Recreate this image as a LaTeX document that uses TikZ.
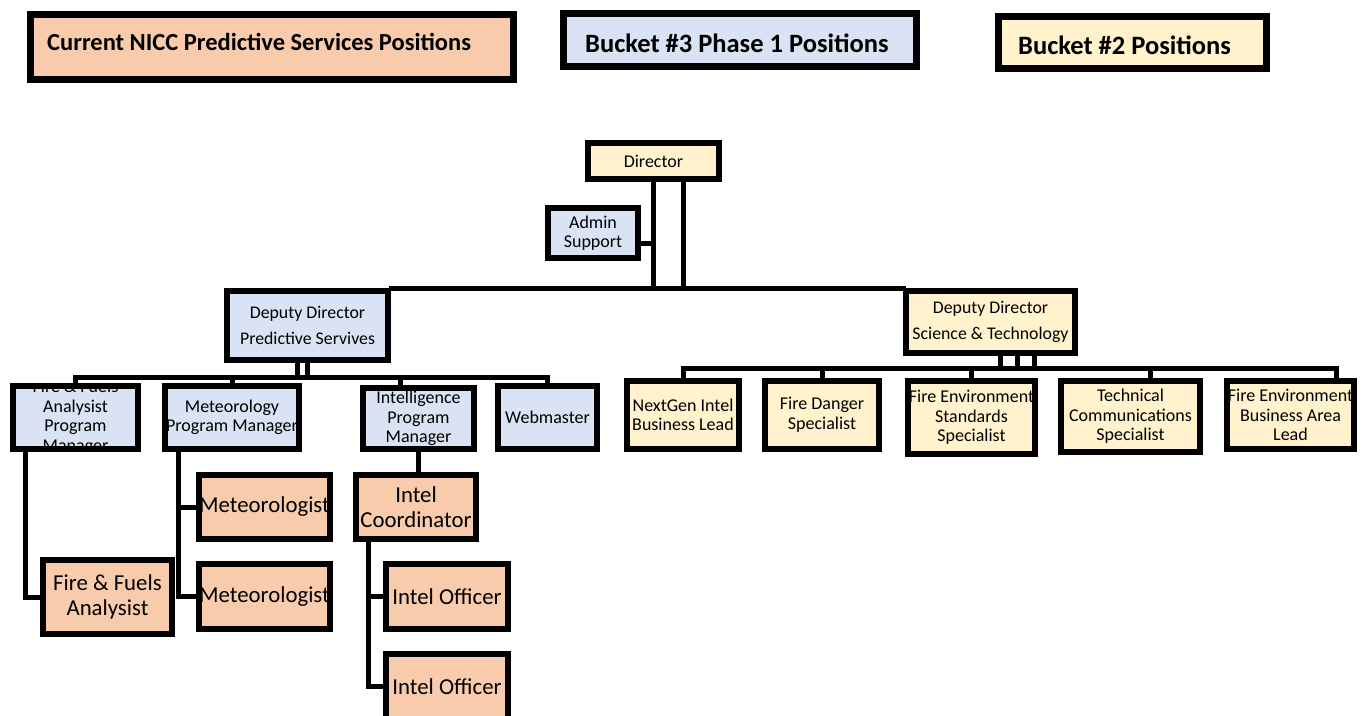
\documentclass[tikz,border=0pt]{standalone}
\usepackage{fontspec}
\setmainfont{Carlito}
\definecolor{peach}{HTML}{F8CBAD}
\definecolor{lblue}{HTML}{DAE3F3}
\definecolor{lyellow}{HTML}{FFF2CC}
\begin{document}
\begin{tikzpicture}[x=1pt, y=-1pt,
  txt/.style={draw=none, fill=none, align=center, inner sep=0pt, minimum width=0pt, minimum height=0pt, path picture={}},
  box/.style={draw, line width=6pt, inner sep=0pt, font=\fontsize{18}{19.5}\selectfont,
    path picture={\node[txt] at (path picture bounding box.center) {#1};}},
  big/.style={font=\fontsize{22.8}{24.5}\selectfont},
  wide/.style={font=\fontsize{17.8}{26}\selectfont},
  legend/.style={draw, line width=7pt, inner sep=0pt},
  legtxt/.style={font=\bfseries\fontsize{26.5}{30}\selectfont, inner sep=0pt, anchor=west},
  link/.style={line width=5pt, line cap=rect}]
\useasboundingbox (0,0) rectangle (1362,715);

% legend
\node [legend, fill=peach, minimum width=483, minimum height=65] (legcur) at (272,47) {};
\node [legtxt, font=\bfseries\fontsize{24.5}{28}\selectfont] (legcurtxt) at (47,42) {Current NICC Predictive Services Positions};
\node [legend, fill=lblue, minimum width=353, minimum height=53] (legbthree) at (740,40) {};
\node [legtxt] (legbthreetxt) at (585,43) {Bucket \#3 Phase 1 Positions};
\node [legend, fill=lyellow, minimum width=268, minimum height=52] (legbtwo) at (1132.5,42.5) {};
\node [legtxt] (legbtwotxt) at (1018,45) {Bucket \#2 Positions};

% top
\node [box={Director}, fill=lyellow, minimum width=131, minimum height=36] (dir) at (653.5,161) {};
\node [box={Admin\\Support}, fill=lblue, minimum width=90, minimum height=50] (admin) at (593,233) {};
\node [box={Deputy Director\\Predictive Servives}, wide, fill=lblue, minimum width=161, minimum height=69] (ddps) at (307.5,325.5) {};
\node [box={Deputy Director\\Science \& Technology}, wide, fill=lyellow, minimum width=169, minimum height=62] (ddst) at (990.5,322) {};

% predictive services
\node [box={Fire \& Fuels\\Analysist\\Program\\Manager}, fill=lblue, minimum width=125, minimum height=63] (ffpm) at (75.5,417.5) {};
\node [box={Meteorology\\Program Manager}, fill=lblue, minimum width=134, minimum height=63] (metpm) at (232,417.5) {};
\node [box={Intelligence\\Program\\Manager}, fill=lblue, minimum width=111, minimum height=61] (intpm) at (418.5,418.5) {};
\node [box={Webmaster}, fill=lblue, minimum width=99, minimum height=63] (web) at (547.5,417.5) {};
\node [box={Meteorologist}, big, fill=peach, minimum width=131, minimum height=64] (met1) at (264.5,507) {};
\node [box={Meteorologist}, big, fill=peach, minimum width=131, minimum height=65] (met2) at (264.5,596.5) {};
\node [box={Fire \& Fuels\\Analysist}, big, fill=peach, minimum width=129, minimum height=74] (ffa) at (107.5,597) {};
\node [box={Intel\\Coordinator}, big, fill=peach, minimum width=120, minimum height=64] (intc) at (416,507) {};
\node [box={Intel Officer}, big, fill=peach, minimum width=122, minimum height=65] (into1) at (447,596.5) {};
\node [box={Intel Officer}, big, fill=peach, minimum width=122, minimum height=65] (into2) at (447,686.5) {};

% science and technology
\node [box={NextGen Intel\\Business Lead}, fill=lyellow, minimum width=112, minimum height=68] (nextgen) at (683,415) {};
\node [box={Fire Danger\\Specialist}, fill=lyellow, minimum width=114, minimum height=68] (fdanger) at (822,415) {};
\node [box={Fire Environment\\Standards\\Specialist}, fill=lyellow, minimum width=127, minimum height=73] (fes) at (971.5,417.5) {};
\node [box={Technical\\Communications\\Specialist}, fill=lyellow, minimum width=139, minimum height=71] (tech) at (1130.5,416.5) {};
\node [box={Fire Environment\\Business Area\\Lead}, fill=lyellow, minimum width=127, minimum height=68] (febal) at (1290.5,415) {};

% director lines
\coordinate (dirR) at ([xshift=30]dir.south);
\coordinate (admR) at ([yshift=-10]admin.east);
\draw [link] (dir.south) -- (dir.south |- ddps.north);
\draw [link] (dirR) -- (dirR |- ddps.north);
\draw [link] (admR) -- (admR -| dir.south);
\draw [link] (ddps.north east) -- (ddst.north west);

% predictive services lines
\coordinate (psbus) at (0,377);
\coordinate (psL) at ([xshift=-10]ddps.south);
\coordinate (intT) at ([xshift=-18]intpm.north);
\draw [link] (psL) -- (psL |- psbus);
\draw [link] (ddps.south) -- (ddps.south |- psbus);
\draw [link] (ffpm.north |- psbus) -- (web.north |- psbus);
\foreach \n in {ffpm.north, metpm.north, intT, web.north}
  \draw [link] (\n |- psbus) -- (\n);
\coordinate (ffdrop) at ([xshift=-50]ffpm.south);
\draw [link] (ffdrop) |- (ffa.west);
\coordinate (metdrop) at ([xshift=-54]metpm.south);
\draw [link] (metdrop) |- (met1.west);
\draw [link] (metdrop) |- (met2.west);
\draw [link] (intpm.south) -- (intpm.south |- intc.north);
\coordinate (intdrop) at ([xshift=-48]intc.south);
\draw [link] (intdrop) |- (into1.west);
\draw [link] (intdrop) |- (into2.west);

% science and technology lines
\coordinate (stbus) at (0,368);
\foreach \dx in {10,27,44} {
  \coordinate (st\dx) at ([xshift=\dx]ddst.south);
  \draw [link] (st\dx) -- (st\dx |- stbus);
}
\coordinate (tcT) at ([xshift=20]tech.north);
\coordinate (fbT) at ([xshift=46]febal.north);
\draw [link] (nextgen.north |- stbus) -- (fbT |- stbus);
\foreach \n in {nextgen.north, fdanger.north, fes.north, tcT, fbT}
  \draw [link] (\n |- stbus) -- (\n);
\end{tikzpicture}
\end{document}
